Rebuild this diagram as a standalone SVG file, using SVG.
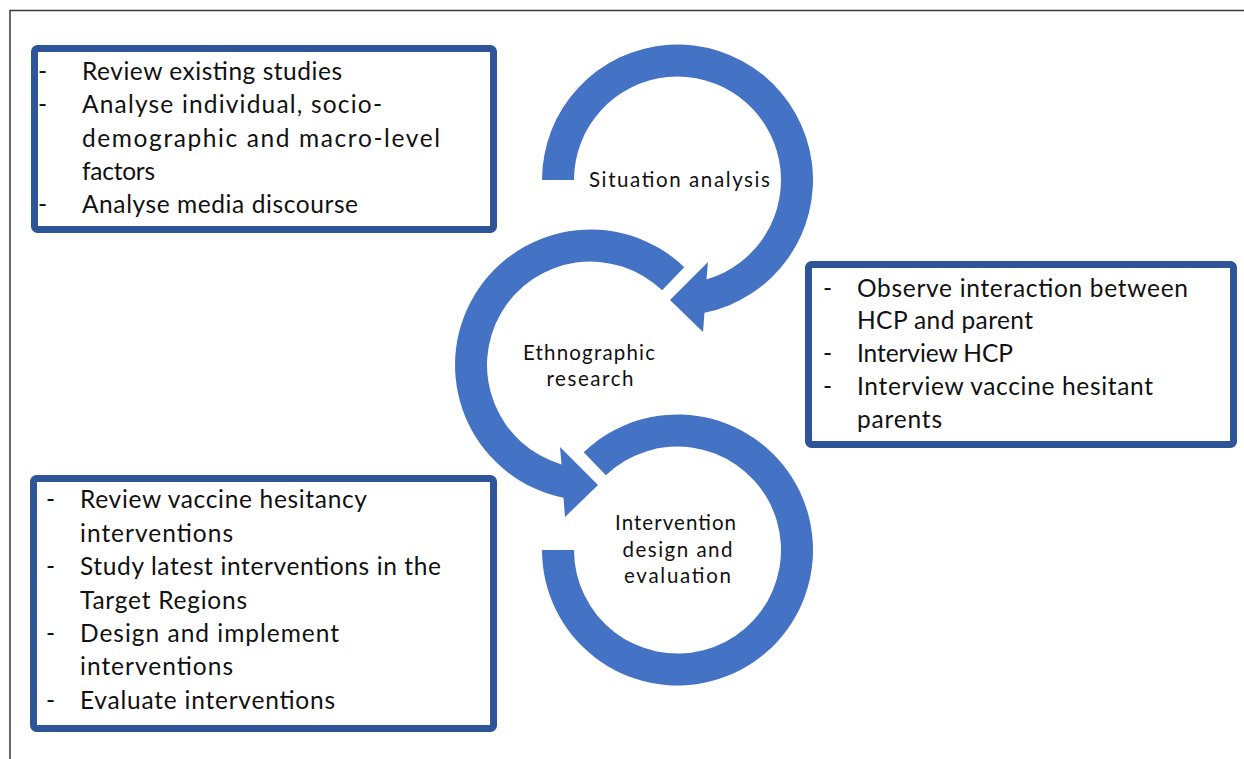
<svg xmlns="http://www.w3.org/2000/svg" width="1244" height="759" viewBox="0 0 1244 759">
<style>
.box{fill:#ffffff;stroke:#2E5597;stroke-width:7}
.ring{fill:#4472C4;stroke:none}
.t{font-family:Lato,"Liberation Sans",sans-serif;font-size:24.5px;fill:#111111}
.c{font-family:Lato,"Liberation Sans",sans-serif;font-size:20.5px;fill:#111111;text-anchor:middle}
.frame{fill:none;stroke:#3a3a3a;stroke-width:1.5}
</style>
<rect x="0" y="0" width="1244" height="759" fill="#ffffff"/>
<polyline class="frame" points="10,759 10,10.5 1244,10.5"/>

<g id="connectors">
  <path id="arrow-situation" class="ring" d="M542,180 A135.5,135.5 0 1 1 704.5,312.8 L703,332 L670,300 L708,262 L706.5,279.4 A103.5,103.5 0 1 0 574,180 Z"/>
  <path id="arrow-ethno" class="ring" d="M684.3,267.2 A135.5,135.5 0 1 0 563.5,497.8 L565,517 L598,485 L560,447 L561.5,464.4 A103.5,103.5 0 1 1 662.1,290.3 Z"/>
  <path id="ring-intervention" class="ring" d="M542,550 A135.5,135.5 0 1 0 583.7,452.2 L605.9,475.3 A103.5,103.5 0 1 1 574,550 Z"/>
</g>

<g id="stage-situation">
  <text class="c" x="679.5" y="187" textLength="181" lengthAdjust="spacing">Situation analysis</text>
</g>
<g id="stage-ethnographic">
  <text class="c" x="589" y="360" textLength="132" lengthAdjust="spacing">Ethnographic</text>
  <text class="c" x="590" y="386" textLength="87" lengthAdjust="spacing">research</text>
</g>
<g id="stage-intervention">
  <text class="c" x="675.5" y="530" textLength="121" lengthAdjust="spacing">Intervention</text>
  <text class="c" x="677.5" y="557" textLength="110" lengthAdjust="spacing">design and</text>
  <text class="c" x="677.5" y="583" textLength="107" lengthAdjust="spacing">evaluation</text>
</g>

<g id="box-situation">
  <rect class="box" x="34.5" y="48.5" width="459" height="181" rx="3"/>
  <text class="t" x="38" y="80">-</text>
  <text class="t" x="82" y="80" textLength="260" lengthAdjust="spacing">Review existing studies</text>
  <text class="t" x="38" y="113">-</text>
  <text class="t" x="82" y="113" textLength="300" lengthAdjust="spacing">Analyse individual, socio-</text>
  <text class="t" x="82" y="146.5" textLength="358" lengthAdjust="spacing">demographic and macro-level</text>
  <text class="t" x="82" y="180" textLength="73" lengthAdjust="spacing">factors</text>
  <text class="t" x="38" y="213">-</text>
  <text class="t" x="82" y="213" textLength="276" lengthAdjust="spacing">Analyse media discourse</text>
</g>

<g id="box-ethnographic">
  <rect class="box" x="808.5" y="264.5" width="425" height="180" rx="3"/>
  <text class="t" x="823" y="297">-</text>
  <text class="t" x="857" y="297" textLength="331" lengthAdjust="spacing">Observe interaction between</text>
  <text class="t" x="857" y="329" textLength="176" lengthAdjust="spacing">HCP and parent</text>
  <text class="t" x="823" y="362">-</text>
  <text class="t" x="857" y="362" textLength="156" lengthAdjust="spacing">Interview HCP</text>
  <text class="t" x="823" y="395">-</text>
  <text class="t" x="857" y="395" textLength="296" lengthAdjust="spacing">Interview vaccine hesitant</text>
  <text class="t" x="857" y="428" textLength="85" lengthAdjust="spacing">parents</text>
</g>

<g id="box-intervention">
  <rect class="box" x="33.5" y="478.5" width="460" height="250" rx="3"/>
  <text class="t" x="46" y="508">-</text>
  <text class="t" x="80" y="508" textLength="287" lengthAdjust="spacing">Review vaccine hesitancy</text>
  <text class="t" x="80" y="541.5" textLength="153" lengthAdjust="spacing">interventions</text>
  <text class="t" x="46" y="575">-</text>
  <text class="t" x="80" y="575" textLength="361" lengthAdjust="spacing">Study latest interventions in the</text>
  <text class="t" x="80" y="608.5" textLength="167" lengthAdjust="spacing">Target Regions</text>
  <text class="t" x="46" y="641.5">-</text>
  <text class="t" x="80" y="641.5" textLength="259" lengthAdjust="spacing">Design and implement</text>
  <text class="t" x="80" y="675" textLength="153" lengthAdjust="spacing">interventions</text>
  <text class="t" x="46" y="708.5">-</text>
  <text class="t" x="80" y="708.5" textLength="255" lengthAdjust="spacing">Evaluate interventions</text>
</g>
</svg>
